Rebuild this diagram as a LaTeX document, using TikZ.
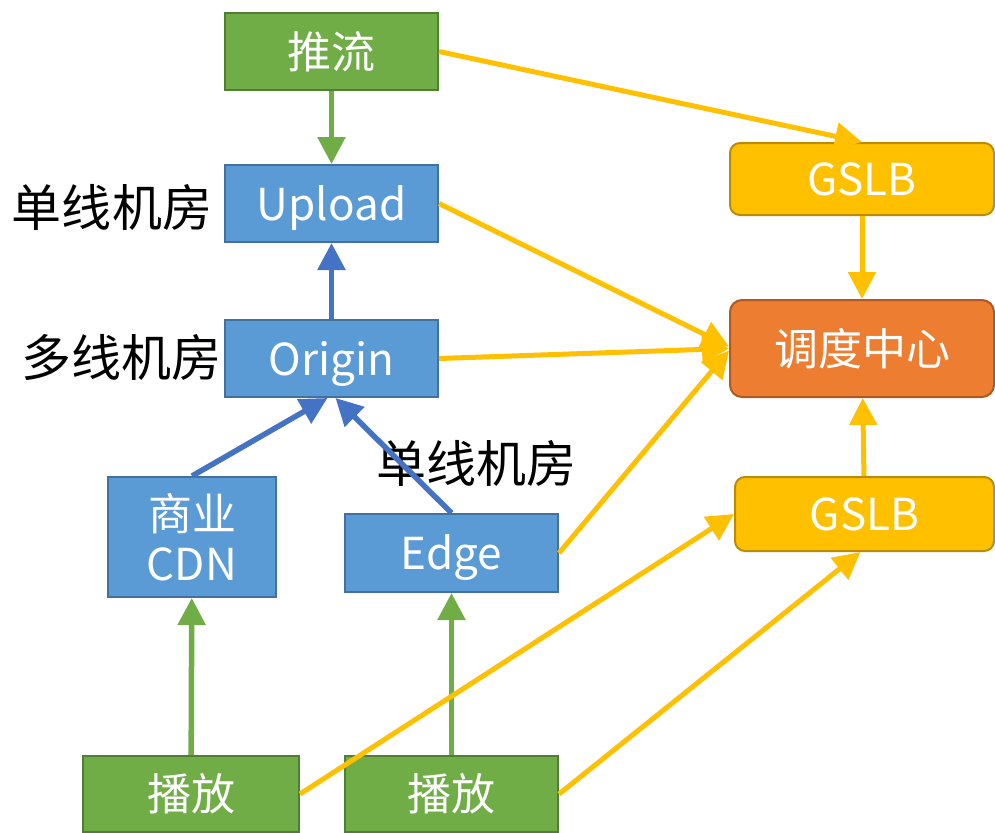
\documentclass[tikz,border=0pt]{standalone}
\usepackage{fontspec}
\setmainfont{Noto Sans CJK SC}
\usetikzlibrary{arrows.meta}

\definecolor{pushgreen}{HTML}{70AD47}
\definecolor{pushgreenline}{HTML}{507E32}
\definecolor{roomblue}{HTML}{5B9BD5}
\definecolor{roomblueline}{HTML}{41719C}
\definecolor{arrowblue}{HTML}{4472C4}
\definecolor{gslbyellow}{HTML}{FFC000}
\definecolor{gslbyellowline}{HTML}{BC8C00}
\definecolor{dispatchorange}{HTML}{ED7D31}
\definecolor{dispatchorangeline}{HTML}{AE5A21}

\begin{document}
\begin{tikzpicture}[x=1pt,y=-1pt,
    box/.style={draw,line width=2pt,text=white,inner sep=0pt,align=center,
      font=\fontsize{44}{50}\selectfont},
    oneline/.style={text height=38.7pt,text depth=5.3pt},
    greenbox/.style={box,oneline,fill=pushgreen,draw=pushgreenline},
    roombox/.style={box,fill=roomblue,draw=roomblueline},
    bluebox/.style={roombox,oneline},
    yellowbox/.style={box,oneline,fill=gslbyellow,draw=gslbyellowline,rounded corners=10pt},
    orangebox/.style={box,oneline,fill=dispatchorange,draw=dispatchorangeline,rounded corners=12pt},
    roomlabel/.style={inner sep=0pt,font=\fontsize{50}{56}\selectfont},
    greenarrow/.style={draw=pushgreen,line width=5.5pt,-{Triangle[length=27pt,width=27pt]}},
    bluearrow/.style={draw=arrowblue,line width=5.5pt,-{Triangle[length=27pt,width=27pt]}},
    yellowarrow/.style={draw=gslbyellow,line width=5pt,-{Triangle[length=27pt,width=27pt]}}
    ]

    \fill [white] (0,0) rectangle (995,832);
    \useasboundingbox (0,0) rectangle (995,832);

    % left column:
    \node (push) at (331.5, 51.5) [greenbox,minimum width=213pt,minimum height=77pt] {推流};
    \node (upload) at (331.5, 203.5) [bluebox,minimum width=213pt,minimum height=77pt] {Upload};
    \node (origin) at (331.5, 358.5) [bluebox,minimum width=213pt,minimum height=77pt] {Origin};
    \node (cdn) at (192, 537) [roombox,minimum width=168pt,minimum height=120pt] {商业\\CDN};
    \node (edge) at (451.5, 553) [bluebox,minimum width=213pt,minimum height=78pt] {Edge};
    \node (play1) at (191, 794) [greenbox,minimum width=216pt,minimum height=76pt] {播放};
    \node (play2) at (451.5, 794) [greenbox,minimum width=213pt,minimum height=76pt] {播放};

    % room labels:
    \node (luploadroom) at (112, 207) [roomlabel] {单线机房};
    \node (loriginroom) at (121, 357) [roomlabel] {多线机房};
    \node (ledgeroom) at (476, 463) [roomlabel] {单线机房};

    % right column:
    \node (gslbtop) at (862, 179) [yellowbox,minimum width=264pt,minimum height=72pt] {GSLB};
    \node (dispatch) at (862, 348.5) [orangebox,minimum width=264pt,minimum height=97pt] {调度中心};
    \node (gslbbot) at (864.5, 514) [yellowbox,minimum width=259pt,minimum height=74pt] {GSLB};

    % connect nodes:

    \draw [greenarrow] (push) to (upload);
    \draw [bluearrow] (origin) to (upload);
    \draw [bluearrow] (cdn.north) to ([xshift=-4pt]origin.south);
    \draw [bluearrow] (edge.north) to ([xshift=4pt]origin.south);
    \draw [greenarrow] (play1) to (cdn);
    \draw [greenarrow] (play2) to (edge);
    \draw [yellowarrow] (push.east) to (gslbtop.north);
    \draw [yellowarrow] (upload.east) to ([yshift=2pt]dispatch.west);
    \draw [yellowarrow] (origin.east) to (dispatch.west);
    \draw [yellowarrow] (edge.east) to ([yshift=-2pt]dispatch.west);
    \draw [yellowarrow] (gslbtop) to (dispatch);
    \draw [yellowarrow] (gslbbot) to (dispatch);
    \draw [yellowarrow] (play1.east) to (gslbbot.west);
    \draw [yellowarrow] (play2.east) to ([xshift=-4pt]gslbbot.south);

  \end{tikzpicture}
\end{document}
